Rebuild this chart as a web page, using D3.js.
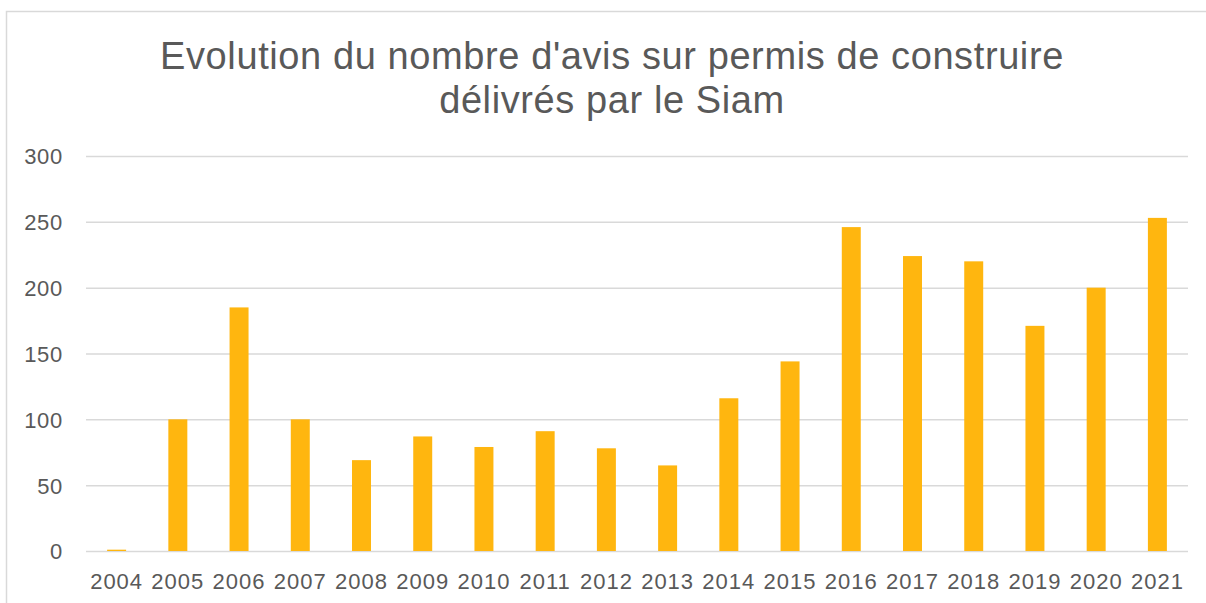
<!DOCTYPE html>
<html>
<head>
<meta charset="utf-8">
<script src="https://cdn.jsdelivr.net/npm/d3@7"></script>
<style>
  html, body { margin: 0; padding: 0; background: #ffffff; }
  svg { display: block; }
  text { font-family: "Liberation Sans", Arial, sans-serif; fill: #595959; }
</style>
</head>
<body>
<svg id="chart" width="1206" height="603"></svg>
<script>
// Number of building-permit opinions issued per year
const years = ["2004","2005","2006","2007","2008","2009","2010","2011","2012",
               "2013","2014","2015","2016","2017","2018","2019","2020","2021"];
const avis = [1, 100, 185, 100, 69, 87, 79, 91, 78, 65, 116, 144, 246, 224, 220, 171, 200, 253];
const yTicks = [0, 50, 100, 150, 200, 250, 300];
const titleLines = ["Evolution du nombre d'avis sur permis de construire",
                    "délivrés par le Siam"];

const svg = d3.select("#chart");
const W = 1206, H = 603;
const plot = { left: 86, right: 1188, top: 156, bottom: 551 };

// Chart frame (only the top and left edges fall inside the view)
svg.append("rect")
  .attr("x", 6.5).attr("y", 11.5)
  .attr("width", W + 20).attr("height", H + 20)
  .attr("fill", "none")
  .attr("stroke", "#d9d9d9")
  .attr("stroke-width", 1.5);

// Title
svg.append("g").selectAll("text")
  .data(titleLines)
  .join("text")
  .attr("x", 612)
  .attr("y", (d, i) => 69 + i * 44)
  .attr("text-anchor", "middle")
  .style("font-size", "38px")
  .style("letter-spacing", "0.6px")
  .text(d => d);

const x = d3.scaleBand()
  .domain(years)
  .range([plot.left, plot.right])
  .paddingInner(0.69)
  .paddingOuter(0.345);

const y = d3.scaleLinear()
  .domain([0, 300])
  .range([plot.bottom, plot.top]);

// Horizontal gridlines with the value labels
const yAxis = svg.append("g")
  .attr("transform", `translate(${plot.left},0)`)
  .call(d3.axisLeft(y).tickValues(yTicks).tickSize(-(plot.right - plot.left)).tickPadding(23));
yAxis.select(".domain").remove();
yAxis.selectAll(".tick line").attr("stroke", "#d9d9d9").attr("stroke-width", 1.5);
yAxis.selectAll(".tick text")
  .style("font-size", "22px")
  .style("letter-spacing", "0.7px")
  .attr("fill", "#595959")
  .attr("dy", "0.36em");

// Bars
svg.append("g").selectAll("rect")
  .data(years.map((yr, i) => ({ yr, v: avis[i] })))
  .join("rect")
  .attr("x", d => x(d.yr))
  .attr("width", x.bandwidth())
  .attr("y", d => y(d.v))
  .attr("height", d => y(0) - y(d.v))
  .attr("fill", "#ffb60f");

// Category axis labels
const xAxis = svg.append("g")
  .attr("transform", `translate(0,${plot.bottom})`)
  .call(d3.axisBottom(x).tickSize(0).tickPadding(22));
xAxis.select(".domain").remove();
xAxis.selectAll(".tick text")
  .style("font-size", "22px")
  .style("letter-spacing", "1px")
  .attr("fill", "#595959");
</script>
</body>
</html>
